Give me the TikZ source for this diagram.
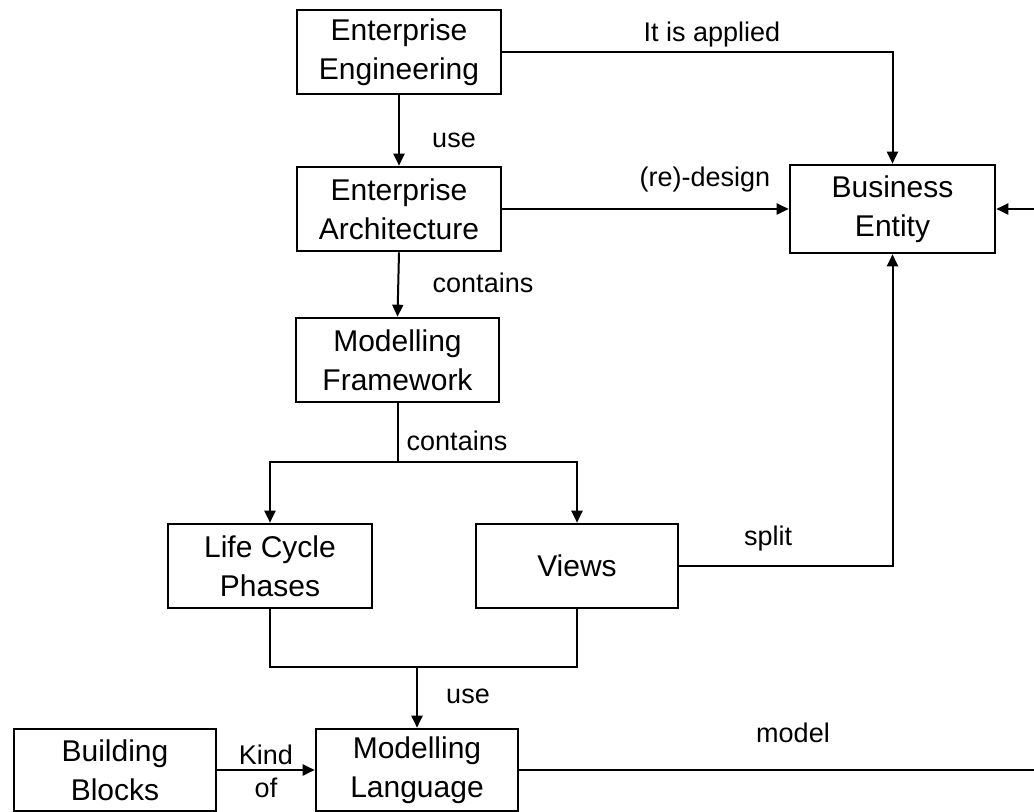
\documentclass[tikz,border=0pt]{standalone}
\usepackage{fontspec}
\setmainfont{Liberation Sans}
\usetikzlibrary{arrows.meta}
\begin{document}
\begin{tikzpicture}[>={Triangle[length=12bp,width=11bp]},line join=miter,
  block/.style={draw,line width=2.6bp,minimum width=204bp,minimum height=84bp,inner sep=0pt,align=center,font=\fontsize{30bp}{39bp}\selectfont},
  lbl/.style={inner sep=0pt,align=center,font=\fontsize{27bp}{33bp}\selectfont},
  link/.style={line width=2bp}]
  \useasboundingbox (0bp,0bp) rectangle (1034bp,812bp);
  \clip (0bp,0bp) rectangle (1034bp,812bp);
%%
  % Node: engineering
  \node[block] (engineering) at (399bp,760bp) {Enterprise\\Engineering};
  % Node: architecture
  \node[block] (architecture) at (399bp,603bp) {Enterprise\\Architecture};
  % Node: entity
  \node[block,minimum width=205bp,minimum height=88bp] (entity) at (892.5bp,603bp) {Business\\Entity};
  % Node: framework
  \node[block,minimum width=203bp] (framework) at (397.5bp,452bp) {Modelling\\Framework};
  % Node: phases
  \node[block] (phases) at (270bp,246bp) {Life Cycle\\Phases};
  % Node: views
  \node[block,minimum width=202bp] (views) at (577bp,246bp) {Views};
  % Node: blocks
  \node[block,minimum width=202bp,minimum height=82bp] (blocks) at (115bp,42bp) {Building\\Blocks};
  % Node: language
  \node[block,minimum width=202bp,minimum height=82bp] (language) at (417bp,42bp) {Modelling\\Language};
%%
  \coordinate (fork) at (397.5bp,350bp);
  \coordinate (join) at (417bp,145bp);
  \coordinate (outside) at (1060bp,0bp);
  % Edge: engineering -> entity
  \draw [link,->] (engineering.east) -| (entity.north);
  % Edge: engineering -> architecture
  \draw [link,->] (engineering.south) -- (architecture.north);
  % Edge: architecture -> entity
  \draw [link,->] (architecture.east) -- (entity.west);
  % Edge: architecture -> framework
  \draw [link,->] (architecture.south) -- (framework.north);
  % Edge: framework -> phases, views
  \draw [link] (framework.south) -- (fork);
  \draw [link,->] (fork) -| (phases.north);
  \draw [link,->] (fork) -| (views.north);
  % Edge: views -> entity
  \draw [link,->] (views.east) -| (entity.south);
  % Edge: phases, views -> language
  \draw [link] (phases.south) |- (join) -| (views.south);
  \draw [link,->] (join) -- (language.north);
  % Edge: blocks -> language
  \draw [link,->] (blocks.east) -- (language.west);
  % Edge: language -> entity
  \draw [link,->] (language.east) -- (language.east -| outside) |- (entity.east);
%%
  \node[lbl] (applied) at (712bp,777bp) {It is applied};
  \node[lbl] (use1) at (454bp,672bp) {use};
  \node[lbl] (redesign) at (705bp,632bp) {(re)-design};
  \node[lbl] (contains1) at (483bp,529bp) {contains};
  \node[lbl] (contains2) at (457bp,371bp) {contains};
  \node[lbl] (split) at (768bp,273bp) {split};
  \node[lbl] (use2) at (468bp,116bp) {use};
  \node[lbl] (model) at (793bp,79bp) {model};
  \node[lbl] (kindof) at (266bp,41bp) {Kind\\of};
%
\end{tikzpicture}
\end{document}
